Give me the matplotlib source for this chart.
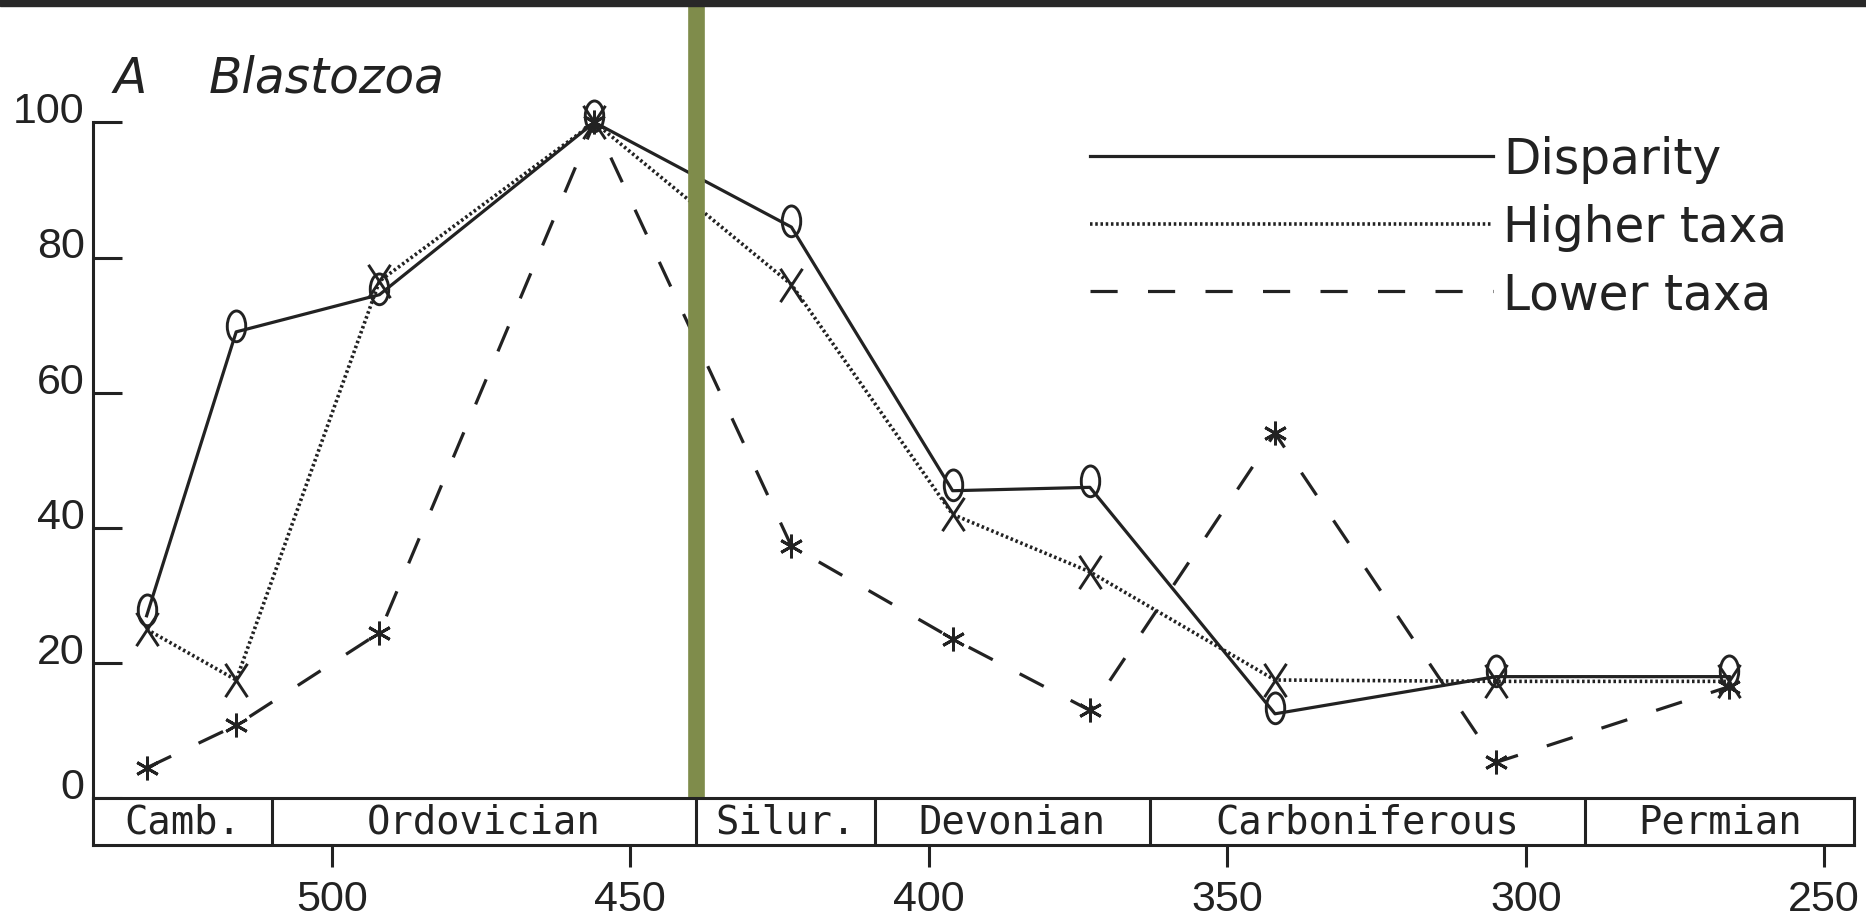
# -*- coding: utf-8 -*-
"""
Blastozoa: disparity against higher and lower taxon counts through the
Palaeozoic, scaled to 100 at the peak.
"""

import matplotlib
matplotlib.use('Agg')
import matplotlib.pyplot as plt
from matplotlib import font_manager
from matplotlib.lines import Line2D
from matplotlib.patches import Rectangle
from matplotlib.path import Path

# Ages (Ma) of the sampled intervals and the three scaled series
ages      = [531, 516, 492, 456, 423, 396, 373, 342, 305, 266]
disparity = [27, 69, 74.5, 100, 84.5, 45.5, 46, 12.5, 18, 18]
higher    = [25, 17.5, 76.5, 100, 76, 42, 33.5, 17.5, 17.3, 17.3]
lower     = [4.5, 10.8, 24.5, 100, 37.3, 23.6, 13, 54, 5.3, 16.5]

# Geological periods (start, end in Ma)
periods      = ['Camb.', 'Ordovician', 'Silur.', 'Devonian', 'Carboniferous', 'Permian']
period_start = [540, 510, 439, 409, 363, 290]
period_end   = [510, 439, 409, 363, 290, 245]

age_ticks   = [500, 450, 400, 350, 300, 250]
value_ticks = [0, 20, 40, 60, 80, 100]
highlight_age = 439

ink   = '#222222'
olive = '#7f8c4b'

# narrow face for the axis numbers if one is around
installed = {f.name for f in font_manager.fontManager.ttflist}
if 'Liberation Sans Narrow' in installed:
    num_family, num_size = 'Liberation Sans Narrow', 33
else:
    num_family, num_size = 'Liberation Sans', 31

# Marker shapes that look like the typed O, X and * of the original plates
ring = Path.unit_circle()
ring = Path(ring.vertices * [0.3, 0.5] + [0, 0.2], ring.codes)
cross = Path([(-0.33, -0.5), (0.33, 0.5), (-0.33, 0.5), (0.33, -0.5)],
             [Path.MOVETO, Path.LINETO, Path.MOVETO, Path.LINETO])
star = (6, 2, 0)

dotted = (0, (0.7, 0.75))
dashed = (0, (8.5, 9.5))

W, H = 1866, 920
fig = plt.figure(figsize=(W / 100, H / 100), dpi=100)
fig.patch.set_facecolor('white')

# pixel layout of the plot area
x_left, x_right = 92.9, 1854.1
y_top, y_zero, y_box = 123.3, 799.3, 846.0

ax = fig.add_axes([x_left / W, 1 - y_zero / H, (x_right - x_left) / W, (y_zero - y_top) / H])
bx = fig.add_axes([x_left / W, 1 - y_box / H, (x_right - x_left) / W, (y_box - y_zero) / H],
                  sharex=ax)

ax.set_xlim(540, 245)
ax.set_ylim(0, 100)

# Series
ax.plot(ages, disparity, color=ink, lw=2.3, ls='-', marker=ring, ms=31,
        mfc='none', mec=ink, mew=2.1, clip_on=False, zorder=4)
ax.plot(ages, higher, color=ink, lw=2.6, ls=dotted, marker=cross, ms=24,
        mfc='none', mec=ink, mew=2.1, clip_on=False, zorder=3)
ax.plot(ages, lower, color=ink, lw=2.3, ls=dashed, marker=star, ms=17,
        mfc='none', mec=ink, mew=2.1, clip_on=False, zorder=3)

ax.axvline(highlight_age, ymin=0, ymax=(y_zero - 7) / (y_zero - y_top), color=olive,
           lw=12, clip_on=False, zorder=10)

# Axes styling
for side in ['top', 'right', 'bottom']:
    ax.spines[side].set_visible(False)
ax.spines['left'].set_linewidth(2.2)
ax.spines['left'].set_color(ink)
ax.tick_params(axis='x', bottom=False, labelbottom=False)
ax.set_yticks(value_ticks)
ax.tick_params(axis='y', direction='in', length=21, width=2.2, color=ink, pad=6,
               labelsize=num_size, labelcolor=ink)
for lab in ax.get_yticklabels():
    lab.set_family(num_family)
    lab.set_verticalalignment('baseline')

ax.text(0.012, 1.045, 'A', transform=ax.transAxes, fontsize=35, style='italic',
        color=ink, ha='left', va='baseline')
ax.text(0.066, 1.045, 'Blastozoa', transform=ax.transAxes, fontsize=35, style='italic',
        color=ink, ha='left', va='baseline')

handles = [Line2D([], [], color=ink, lw=2.3, ls='-'),
           Line2D([], [], color=ink, lw=2.6, ls=dotted),
           Line2D([], [], color=ink, lw=2.3, ls=dashed)]
ax.legend(handles, ['Disparity', 'Higher taxa', 'Lower taxa'], loc='upper left',
          bbox_to_anchor=(0.566, 0.981), frameon=False, fontsize=35, borderpad=0,
          borderaxespad=0, handlelength=8.3, handletextpad=0.2, labelspacing=0.40,
          labelcolor=ink)

# Period bar under the plot
for s in bx.spines.values():
    s.set_linewidth(2.2)
    s.set_color(ink)
bx.set_ylim(0, 1)
bx.set_yticks([])
for name, start, end in zip(periods, period_start, period_end):
    if start != period_start[0]:
        bx.axvline(start, color=ink, lw=2.2)
    bx.text((start + end) / 2, 0.5, name, ha='center', va='center',
            family='DejaVu Sans Mono', fontsize=28, color=ink)
bx.set_xticks(age_ticks)
bx.tick_params(axis='x', direction='out', length=15.5, width=2.2, color=ink, pad=9,
               labelsize=num_size, labelcolor=ink)
for lab in bx.get_xticklabels():
    lab.set_family(num_family)

# dark strip across the top edge
fig.patches.append(Rectangle((0, 1 - 7 / H), 1, 7 / H, transform=fig.transFigure,
                             color='#282828', zorder=0))

fig.savefig('out.png', dpi=100)
